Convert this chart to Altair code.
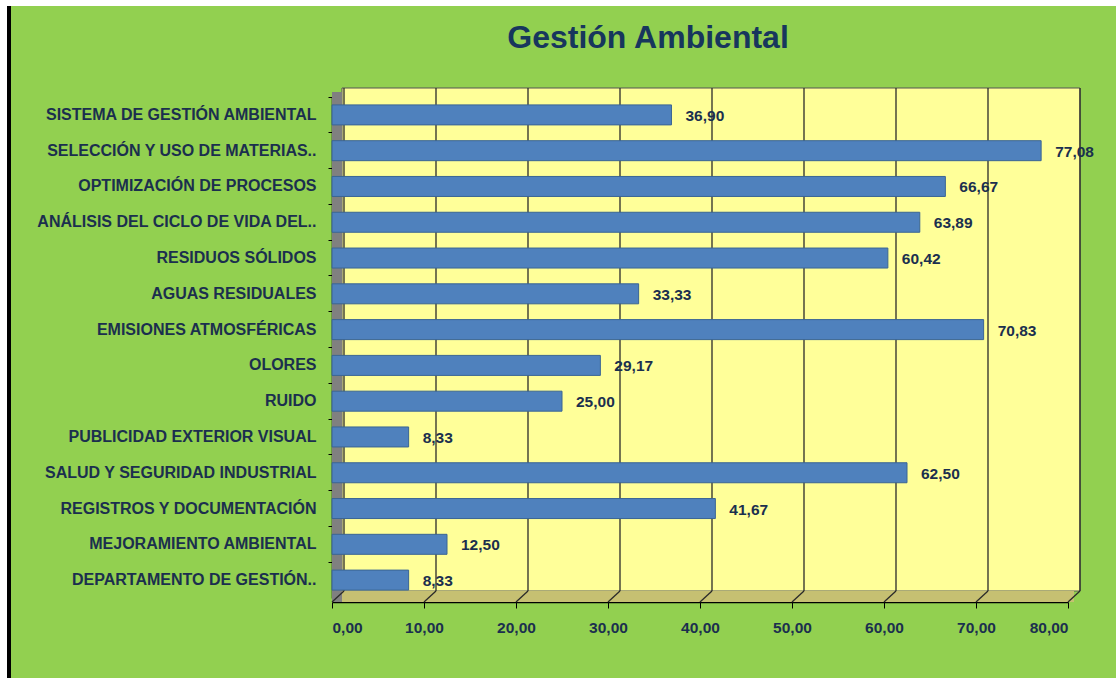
import altair as alt
import pandas as pd

categories = [
    "SISTEMA DE GESTIÓN AMBIENTAL",
    "SELECCIÓN Y USO DE MATERIAS..",
    "OPTIMIZACIÓN DE PROCESOS ",
    "ANÁLISIS DEL CICLO DE VIDA DEL..",
    "RESIDUOS SÓLIDOS",
    "AGUAS RESIDUALES",
    "EMISIONES ATMOSFÉRICAS",
    "OLORES",
    "RUIDO",
    "PUBLICIDAD EXTERIOR VISUAL",
    "SALUD Y SEGURIDAD INDUSTRIAL",
    "REGISTROS Y DOCUMENTACIÓN",
    "MEJORAMIENTO AMBIENTAL",
    "DEPARTAMENTO DE GESTIÓN..",
]
values = [36.90, 77.08, 66.67, 63.89, 60.42, 33.33, 70.83, 29.17, 25.00, 8.33, 62.50, 41.67, 12.50, 8.33]
tick_values = [0, 10, 20, 30, 40, 50, 60, 70, 80]

W, H = 736, 501
TXT = "#1B2F4E"
FONT = "Liberation Sans"

df = pd.DataFrame({"cat": categories, "val": values})
ticks_df = pd.DataFrame({"t": tick_values})
one = pd.DataFrame({"a": [0]})

xscale = alt.Scale(domain=[0, 80])
yscale = alt.Scale(domain=categories, paddingInner=0, paddingOuter=0)

# decorations: page strip, border, walls
white_top = alt.Chart(one).mark_rect(color="white").encode(
    x=alt.value(-332), x2=alt.value(W + 48), y=alt.value(-97), y2=alt.value(-91))
white_left = alt.Chart(one).mark_rect(color="white").encode(
    x=alt.value(-332), x2=alt.value(-325), y=alt.value(-97), y2=alt.value(H + 80))
border = alt.Chart(one).mark_rect(color="black").encode(
    x=alt.value(-325), x2=alt.value(-321), y=alt.value(-91), y2=alt.value(H + 80))
back_wall = alt.Chart(one).mark_rect(color="#FFFF99", stroke="#555555", strokeWidth=1).encode(
    x=alt.value(10), x2=alt.value(W + 12), y=alt.value(-9), y2=alt.value(H - 7))
floor = alt.Chart(one).mark_rect(color="#C6C072").encode(
    x=alt.value(4), x2=alt.value(W + 6), y=alt.value(H - 7), y2=alt.value(H + 4))
side_wall = alt.Chart(one).mark_rect(color="#808080").encode(
    x=alt.value(0), x2=alt.value(10), y=alt.value(-5), y2=alt.value(H + 4))

grid = alt.Chart(ticks_df).mark_rule(color="#2A2A2A", strokeWidth=1.3, xOffset=12).encode(
    x=alt.X("t:Q", scale=xscale), y=alt.value(-9), y2=alt.value(H - 7))
diag = alt.Chart(ticks_df).mark_rule(color="#2A2A2A", strokeWidth=1.3, x2Offset=12).encode(
    x=alt.X("t:Q", scale=xscale), x2="t:Q", y=alt.value(H + 4), y2=alt.value(H - 7))

bars = alt.Chart(df).mark_bar(size=20, color="#4F81BD", stroke="#3A6594", strokeWidth=1).encode(
    x=alt.X("val:Q", scale=xscale,
            axis=alt.Axis(values=tick_values, title=None, grid=False, offset=4,
                          labelExpr="replace(format(datum.value, '.2f'), '.', ',')",
                          labelFont=FONT, labelFontSize=15.5, labelFontWeight="bold",
                          labelColor=TXT, tickColor="black", tickSize=6, labelPadding=12,
                          domainColor="black", domainWidth=1.5)),
    y=alt.Y("cat:N", scale=yscale, sort=categories,
            axis=alt.Axis(title=None, labelFont=FONT, labelFontSize=16, labelFontWeight="bold",
                          labelColor=TXT, tickColor="black", tickSize=4, labelPadding=12,
                          bandPosition=0, domainColor="black", domainWidth=1.5,
                          labelLimit=320)),
)

labels = alt.Chart(df).transform_calculate(
    lbl="replace(format(datum.val, '.2f'), '.', ',')"
).mark_text(align="left", baseline="middle", dx=14, dy=1, font=FONT, fontSize=15.5,
            fontWeight="bold", color=TXT).encode(
    x=alt.X("val:Q", scale=xscale), y=alt.Y("cat:N", scale=yscale, sort=categories),
    text="lbl:N")

chart = alt.layer(
    white_top, white_left, border, back_wall, floor, side_wall, grid, diag, bars, labels
).properties(
    width=W, height=H,
    background="#92D050",
    padding={"left": 332, "top": 97, "right": 48, "bottom": 80},
    autosize=alt.AutoSizeParams(type="none"),
    title=alt.TitleParams("Gestión Ambiental", font=FONT, fontSize=32, fontWeight="bold",
                          color="#17365D", anchor="middle", dx=-52, offset=-55),
).configure_view(stroke=None)

chart.save("out.html", embed_options={"renderer": "svg", "actions": False})
